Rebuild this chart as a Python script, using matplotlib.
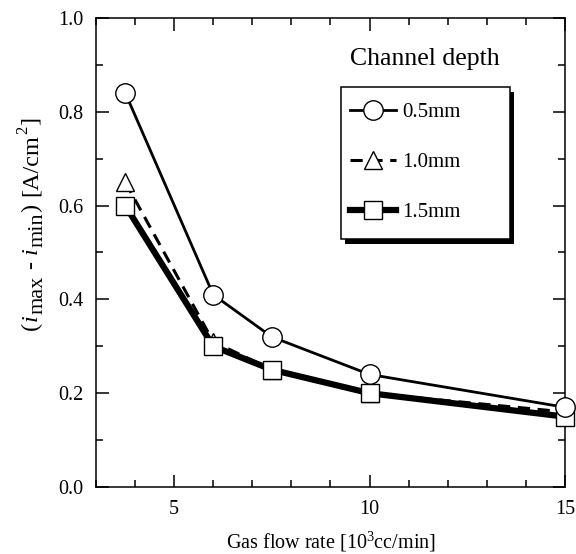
import matplotlib.pyplot as plt
from matplotlib.patches import Rectangle
from matplotlib.ticker import MultipleLocator
from matplotlib.transforms import IdentityTransform

plt.rcParams['font.family'] = ['Liberation Serif', 'DejaVu Serif']
plt.rcParams['mathtext.fontset'] = 'custom'
plt.rcParams['mathtext.rm'] = 'Liberation Serif'
plt.rcParams['mathtext.it'] = 'Liberation Serif:italic'

# gas flow rate [10^3 cc/min]
flow = [3.75, 6.0, 7.5, 10.0, 15.0]
# (i_max - i_min) [A/cm2] for each channel depth
d05 = [0.84, 0.41, 0.32, 0.24, 0.17]
d10 = [0.65, 0.31, 0.25, 0.20, 0.16]
d15 = [0.60, 0.30, 0.25, 0.20, 0.15]
labels = ['0.5mm', '1.0mm', '1.5mm']

fig = plt.figure(figsize=(5.76, 5.54), dpi=100)
ax = fig.add_axes([96/576, 1-487/554, 469/576, 469/554])

mk = dict(markerfacecolor='white', markeredgecolor='black', markeredgewidth=1.0,
          clip_on=False, color='black')
l2, = ax.plot(flow, d10, '--', marker='^', ms=13, lw=2.2, dashes=(4, 2.5), zorder=3, **mk)
l3, = ax.plot(flow, d15, '-', marker='s', ms=13, lw=4.5, zorder=4, **mk)
l1, = ax.plot(flow, d05, '-', marker='o', ms=14, lw=2.0, zorder=5, **mk)

ax.set_xlim(3, 15)
ax.set_ylim(0, 1.0)
ax.xaxis.set_major_locator(MultipleLocator(5))
ax.xaxis.set_minor_locator(MultipleLocator(1))
ax.yaxis.set_major_locator(MultipleLocator(0.2))
ax.yaxis.set_minor_locator(MultipleLocator(0.1))
ax.yaxis.set_major_formatter(plt.FuncFormatter(lambda v, p: '%.1f' % v))
ax.tick_params(which='both', direction='in', top=True, right=True,
               width=1.1, labelsize=14.5, pad=9)
ax.tick_params(which='major', length=9)
ax.tick_params(which='minor', length=5)
for s in ax.spines.values():
    s.set_linewidth(1.1)

ax.set_xlabel('Gas flow rate [10$^3$cc/min]', fontsize=14.5, labelpad=8)

# y label built piece by piece (big subscripts like the original)
# (text, size, baseline shift px, gap before px, style)
ylab = [('(', 17.5, 0, 0, 'normal'), ('i', 17.5, 0, 1, 'italic'),
        ('max', 16, 6, 0, 'normal'), ('-', 17.5, 0, 7, 'normal'),
        ('i', 17.5, 0, 7, 'italic'), ('min', 16, 6, 0, 'normal'),
        (')', 17.5, 0, 1, 'normal'), ('[A/cm', 17.5, 0, 7, 'normal'),
        ('2', 12, -10, 0, 'normal'), (']', 17.5, 0, 1, 'normal')]
renderer = fig.canvas.get_renderer()
xb = 37
yp = 554 - 330
for txt, size, shift, gap, style in ylab:
    yp += gap
    t = fig.text(xb + shift, yp, txt, fontsize=size, style=style, rotation=90,
                 rotation_mode='anchor', ha='left', va='baseline',
                 transform=IdentityTransform())
    yp += t.get_window_extent(renderer).height

ax.text(0.701, 0.913, 'Channel depth', transform=ax.transAxes,
        ha='center', va='center', fontsize=18.5)

# legend box with drop shadow
bx, by, bw, bh = 0.522, 0.529, 0.361, 0.324
ax.add_patch(Rectangle((bx + 0.008, by - 0.01), bw, bh, transform=ax.transAxes,
                       facecolor='black', edgecolor='none', zorder=6, clip_on=False))
ax.add_patch(Rectangle((bx, by), bw, bh, transform=ax.transAxes,
                       facecolor='white', edgecolor='black', lw=1.1, zorder=7, clip_on=False))
leg = ax.legend([l1, l2, l3], labels, loc='upper left', bbox_to_anchor=(0.541, 0.819),
                frameon=False, fontsize=15, handlelength=2.2, handletextpad=0.3,
                labelspacing=1.45, borderpad=0, borderaxespad=0)
leg.set_zorder(8)

fig.savefig('out.png', dpi=100)
